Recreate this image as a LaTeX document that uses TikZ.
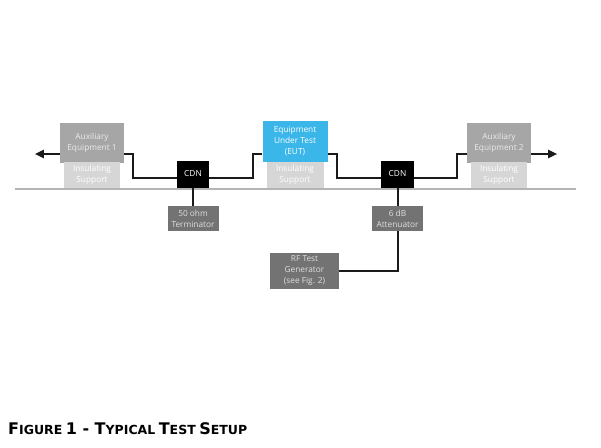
\documentclass[tikz,border=0pt]{standalone}
\usepackage{fontspec}
\setmainfont{Open Sans}
\newfontfamily\capfont{DejaVu Sans}
\usepackage{xcolor}
\usepackage{tikz}
\usetikzlibrary{arrows.meta,calc}

\definecolor{auxgray}{HTML}{A6A6A6}
\definecolor{insgray}{HTML}{D6D6D6}
\definecolor{eutblue}{HTML}{3AB6E8}
\definecolor{darkbox}{HTML}{737373}
\definecolor{groundgray}{HTML}{B4B4B4}
\definecolor{cablecol}{HTML}{1A1A1A}
\newcommand{\bigsc}[1]{{\fontsize{16}{16}\selectfont #1}}
\newcommand{\smallsc}[1]{{\fontsize{12.5}{12.5}\selectfont #1}}

\begin{document}
\begin{tikzpicture}[x=1pt, y=-1pt,
    box/.style={inner sep=0pt, align=center, font=\fontsize{8.3}{11}\selectfont},
    auxbox/.style={box, fill=auxgray, text=white!92!black, minimum width=64pt, minimum height=40pt},
    support/.style={box, fill=insgray, text=white, minimum width=56pt, minimum height=26pt},
    cdnbox/.style={box, fill=black, text=white, minimum width=32pt, minimum height=27pt},
    darkbox/.style={box, fill=darkbox, text=white!88!black, minimum width=51pt, minimum height=25pt},
    cable/.style={draw=cablecol, line width=2pt},
    arrow/.style={cable, -{Triangle[length=9pt, width=8pt]}}
]
    \useasboundingbox (0,0) rectangle (601,447);

    % Ground plane
    \coordinate (gl) at (15,189);
    \coordinate (gr) at (576,189);
    \draw[groundgray, line width=2.5pt] (gl) -- (gr);

    % Auxiliary equipment 1
    \node[auxbox] (aux1) at (92,142.5) {Auxiliary\\Equipment 1};
    \node[support] (ins1) at (92,175) {Insulating\\Support};

    % EUT
    \node[auxbox, fill=eutblue, text=white, minimum width=65pt, minimum height=41pt] (eut) at (295,141.5) {Equipment\\Under Test\\(EUT)};
    \node[support, minimum width=57pt] (ins2) at (295,175) {Insulating\\Support};

    % Auxiliary equipment 2
    \node[auxbox] (aux2) at (499,142.5) {Auxiliary\\Equipment 2};
    \node[support] (ins3) at (499,175) {Insulating\\Support};

    % CDNs
    \node[cdnbox] (cdn1) at (193,174) {CDN};
    \node[cdnbox, minimum width=33pt] (cdn2) at (397.5,174) {CDN};

    % Terminator, attenuator, generator
    \node[darkbox] (term) at (193,218.5) {50 ohm\\Terminator};
    \node[darkbox] (att) at (397.5,218.5) {6 dB\\Attenuator};
    \node[darkbox, minimum width=69pt, minimum height=36pt] (rfgen) at (304.5,271) {RF Test\\Generator\\(see Fig. 2)};

    % Cables
    \draw[arrow] ($(aux1.west)+(0,11.5)$) -- ++(-25,0);
    \draw[arrow] ($(aux2.east)+(0,11.5)$) -- ++(26,0);
    \draw[cable] ($(aux1.east)+(0,11.5)$) -- ++(9,0) |- ($(cdn1.west)+(0,4)$);
    \draw[cable] ($(cdn1.east)+(0,4)$) -| (253,154) -- ($(eut.west)+(0,12.5)$);
    \draw[cable] ($(eut.east)+(0,12.5)$) -- ++(9,0) |- ($(cdn2.west)+(0,4)$);
    \draw[cable] ($(cdn2.east)+(0,4)$) -| (457,154) -- ($(aux2.west)+(0,11.5)$);
    \draw[cable] (cdn1) -- (term);
    \draw[cable] (cdn2) -- (att);
    \draw[cable] (att.south) |- (rfgen.east);

    % Caption
    \node[anchor=base west, inner sep=0pt, font=\capfont\bfseries] (caption) at (8,434)
        {\bigsc{F}\smallsc{IGURE} \bigsc{1 - T}\smallsc{YPICAL} \bigsc{T}\smallsc{EST} \bigsc{S}\smallsc{ETUP}};
\end{tikzpicture}
\end{document}
